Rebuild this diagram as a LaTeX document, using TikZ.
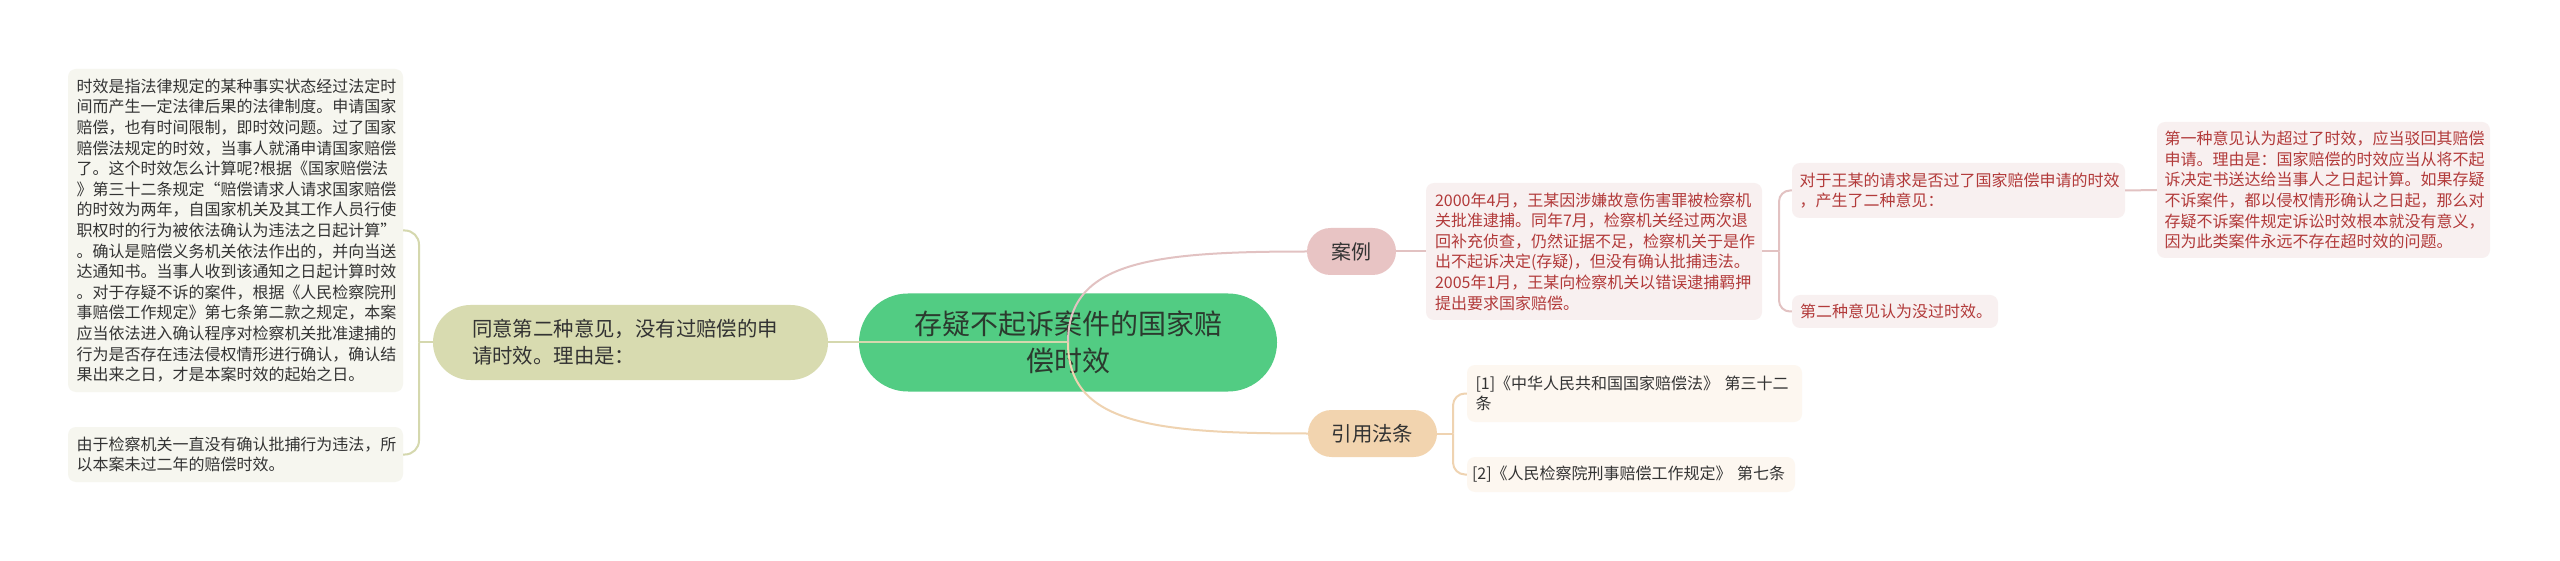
\documentclass[tikz,border=0pt]{standalone}
\usepackage{fontspec}
\setmainfont{Noto Sans CJK SC}
\definecolor{rootfill}{HTML}{52CC83}
\definecolor{roottext}{HTML}{2B3A2E}
\definecolor{lfill}{HTML}{D8DBB0}
\definecolor{lline}{HTML}{D5D8AE}
\definecolor{lboxc}{HTML}{F6F6EF}
\definecolor{cfill}{HTML}{E8C4C4}
\definecolor{cline}{HTML}{E2C2C2}
\definecolor{cboxc}{HTML}{F8F0F0}
\definecolor{ctext}{HTML}{B23A3A}
\definecolor{rfill}{HTML}{F2D4AF}
\definecolor{rline}{HTML}{EFD3B1}
\definecolor{rboxc}{HTML}{FDF7F0}
\definecolor{dtext}{HTML}{333333}
\begin{document}
\begin{tikzpicture}[x=1pt,y=-1pt,
  box/.style={inner sep=0pt, align=left, rounded corners=8pt, font=\fontsize{16}{20.6}\selectfont},
  lbox/.style={box, fill=lboxc, text=dtext},
  cbox/.style={box, fill=cboxc, text=ctext},
  rbox/.style={box, fill=rboxc, text=dtext},
  pill/.style={inner sep=0pt, rounded corners=#1},
  conn/.style={line width=2pt},
]
\useasboundingbox (0,0) rectangle (2560,561);
\fill[white] (0,0) rectangle (2560,561);

% root
\node[pill=49pt, fill=rootfill, text=roottext, minimum width=418pt, minimum height=98pt,
      align=center, font=\fontsize{28}{37}\selectfont] (root) at (1068,342.5)
  {存疑不起诉案件的国家赔\\偿时效};

% left branch
\node[pill=37.5pt, fill=lfill, text=dtext, minimum width=395pt, minimum height=75pt,
      text width=317pt, align=left, font=\fontsize{20.4}{27}\selectfont] (L) at (630.5,342.5)
  {同意第二种意见，没有过赔偿的申\\请时效。理由是：};
\node[lbox, minimum width=335pt, minimum height=323pt, text width=318pt] (L1) at (235.5,230.5)
  {时效是指法律规定的某种事实状态经过法定时\\
   间而产生一定法律后果的法律制度。申请国家\\
   赔偿，也有时间限制，即时效问题。过了国家\\
   赔偿法规定的时效，当事人就涌申请国家赔偿\\
   了。这个时效怎么计算呢?根据《国家赔偿法\\
   》第三十二条规定“赔偿请求人请求国家赔偿\\
   的时效为两年，自国家机关及其工作人员行使\\
   职权时的行为被依法确认为违法之日起计算”\\
   。确认是赔偿义务机关依法作出的，并向当送\\
   达通知书。当事人收到该通知之日起计算时效\\
   。对于存疑不诉的案件，根据《人民检察院刑\\
   事赔偿工作规定》第七条第二款之规定，本案\\
   应当依法进入确认程序对检察机关批准逮捕的\\
   行为是否存在违法侵权情形进行确认，确认结\\
   果出来之日，才是本案时效的起始之日。};
\node[lbox, minimum width=335pt, minimum height=55pt, text width=318pt] (L2) at (235.5,454.5)
  {由于检察机关一直没有确认批捕行为违法，所\\以本案未过二年的赔偿时效。};

% case branch
\node[pill=23.5pt, fill=cfill, text=dtext, minimum width=89pt, minimum height=47pt,
      font=\fontsize{20}{24}\selectfont] (A) at (1351.5,251.5) {案例};
\node[cbox, minimum width=336pt, minimum height=137pt, text width=318pt] (CS) at (1594,251.5)
  {2000年4月，王某因涉嫌故意伤害罪被检察机\\
   关批准逮捕。同年7月，检察机关经过两次退\\
   回补充侦查，仍然证据不足，检察机关于是作\\
   出不起诉决定(存疑)，但没有确认批捕违法。\\
   2005年1月，王某向检察机关以错误逮捕羁押\\
   提出要求国家赔偿。};
\node[cbox, minimum width=333pt, minimum height=55pt, text width=318pt] (Q) at (1958.5,190.5)
  {对于王某的请求是否过了国家赔偿申请的时效\\，产生了二种意见：};
\node[cbox, minimum width=206pt, minimum height=33pt, text width=190pt] (C2) at (1895,311.5)
  {第二种意见认为没过时效。};
\node[cbox, minimum width=333pt, minimum height=136pt, text width=318pt] (OP) at (2323.5,190)
  {第一种意见认为超过了时效，应当驳回其赔偿\\
   申请。理由是：国家赔偿的时效应当从将不起\\
   诉决定书送达给当事人之日起计算。如果存疑\\
   不诉案件，都以侵权情形确认之日起，那么对\\
   存疑不诉案件规定诉讼时效根本就没有意义，\\
   因为此类案件永远不存在超时效的问题。};

% reference branch
\node[pill=23.5pt, fill=rfill, text=dtext, minimum width=129pt, minimum height=47pt,
      font=\fontsize{20.4}{24}\selectfont] (R) at (1372.5,433.5) {引用法条};
\node[rbox, minimum width=335pt, minimum height=57pt, text width=318pt] (R1) at (1634.5,393.5)
  {[1]《中华人民共和国国家赔偿法》 第三十二\\条};
\node[rbox, minimum width=328pt, minimum height=35pt, text width=318pt] (R2) at (1631,474.5)
  {\mbox{[2]《人民检察院刑事赔偿工作规定》 第七条}};

% connectors from root
\draw[conn, lline] (root.center) -- (L.east);
\draw[conn, cline] (root.center) .. controls (1068,262) and (1150,251.5) .. (A.west);
\draw[conn, rline] (root.center) .. controls (1068,423) and (1150,433.5) .. (R.west);

% left bracket
\coordinate (Lb) at (419,342.5);
\draw[conn, lline] (L.west) -- (Lb);
\draw[conn, lline, rounded corners=14pt] (Lb) -- (Lb |- L1.east) -- (L1.east);
\draw[conn, lline, rounded corners=14pt] (Lb) -- (Lb |- L2.east) -- (L2.east);

% case connectors
\draw[conn, cline] (A.east) -- (CS.west);
\coordinate (Cb) at (1779,251.5);
\draw[conn, cline] (CS.east) -- (Cb);
\draw[conn, cline, rounded corners=11pt] (Cb) -- (Cb |- Q.west) -- (Q.west);
\draw[conn, cline, rounded corners=11pt] (Cb) -- (Cb |- C2.west) -- (C2.west);
\draw[conn, cline] (Q.east) -- (OP.west);

% reference connectors
\coordinate (Rb) at (1453,433.5);
\draw[conn, rline] (R.east) -- (Rb);
\draw[conn, rline, rounded corners=12pt] (Rb) -- (Rb |- R1.west) -- (R1.west);
\draw[conn, rline, rounded corners=12pt] (Rb) -- (Rb |- R2.west) -- (R2.west);
\end{tikzpicture}
\end{document}
